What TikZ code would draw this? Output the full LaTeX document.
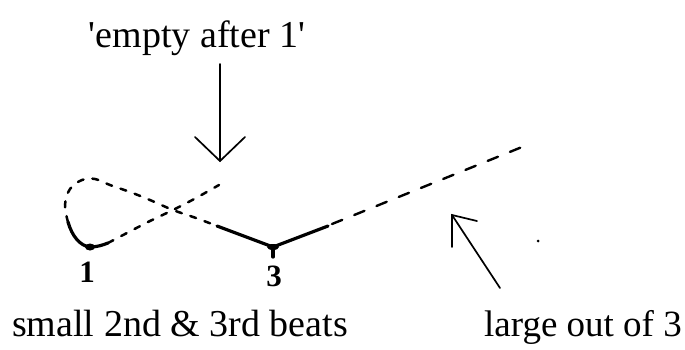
\documentclass[tikz,border=0pt]{standalone}
\usepackage{fontspec}
\setmainfont{Liberation Serif}
\begin{document}
\begin{tikzpicture}[x=1pt,y=-1pt,
  lbl/.style={inner sep=0pt,font=\fontsize{38}{40}\selectfont},
  digit/.style={inner sep=0pt,font=\fontsize{31}{33}\selectfont\bfseries},
  pointer/.style={line width=1.7pt,line cap=round,line join=miter},
  dashpath/.style={line width=2.5pt,dash pattern=on 6pt off 9pt,line cap=round},
  longdash/.style={line width=2.4pt,dash pattern=on 11pt off 13pt,line cap=round},
  solidbeat/.style={line width=3.2pt,line cap=round,line join=round}]
\useasboundingbox (0,0) rectangle (685,349);

% labels
\node[lbl,anchor=base] (empty) at (197,47) {\textquotesingle empty after 1\textquotesingle};
\node[lbl,anchor=base west] (small) at (12,336) {small 2nd \& 3rd beats};
\node[lbl,anchor=base,font=\fontsize{37}{40}\selectfont] (large) at (583,336) {large out of 3};
\node[digit] (one) at (87,272) {1};
\node[digit] (three) at (274,276) {3};

% beat points
\coordinate (b1) at (90,247);
\coordinate (b3) at (273,247);
\coordinate (cross) at (173,210);
\coordinate (ea1) at (219,185);
\coordinate (out3) at (522,147);

% loop (path B): from beat 1 up the left side, over the top, down through the crossing to 3
\draw[solidbeat] (68,222) .. controls (72,236) and (80,246) .. (b1) .. controls (97,247) and (103,245) .. (108,243);
\fill (b1) ellipse (5pt and 3.5pt);
\draw[dashpath] plot[smooth,tension=0.6] coordinates {(68,222) (65,205) (70,189) (82,180) (95,179) (110,185) (130,192) (150,200) (cross) (196,218) (217,226)};

% rebound from 1 up to 'empty after 1'
\draw[dashpath] plot[smooth,tension=0.5] coordinates {(108,243) (125,234) (150,221) (cross) (196,198) (ea1)};

% beat 3 and the large out of 3
\draw[solidbeat] (217,226) -- (b3) -- (328,226);
\fill (b3) ellipse (6pt and 3pt);
\draw[solidbeat] (b3) -- (273,257);
\draw[longdash] (332,224) -- (out3);

% stray dot
\fill (538,241) circle (1.5pt);

% arrow to 'empty after 1'
\coordinate (a1t) at (220,64);
\coordinate (a1h) at (220,161);
\draw[pointer] (a1t) -- (a1h);
\draw[pointer] (195,137) -- (a1h) -- (245,137);

% arrow to the out of 3
\coordinate (a2t) at (500,288);
\coordinate (a2h) at (452,215);
\draw[pointer] (a2t) -- (a2h);
\draw[pointer] (452,247) -- (a2h) -- (477,221);
\end{tikzpicture}
\end{document}
